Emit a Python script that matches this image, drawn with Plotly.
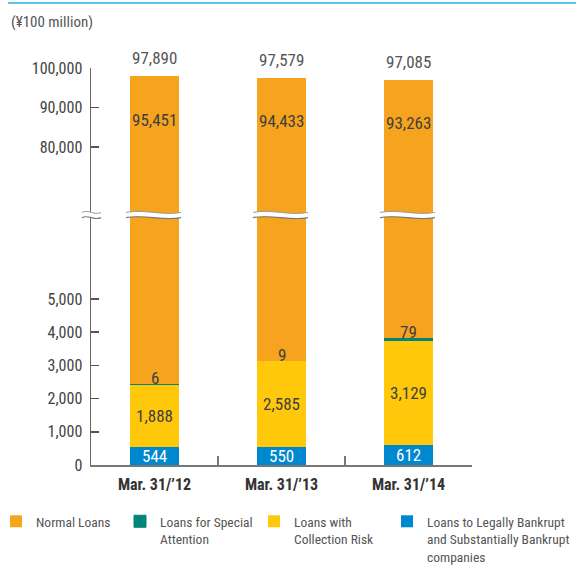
import plotly.graph_objects as go

categories = ["Mar. 31/’12", "Mar. 31/’13", "Mar. 31/’14"]
bankrupt = [544, 550, 612]
collection_risk = [1888, 2585, 3129]
special_attention = [6, 9, 79]
normal = [95451, 94433, 93263]
totals = [97890, 97579, 97085]

lower_ticks = [0, 1000, 2000, 3000, 4000, 5000]
upper_ticks = [80000, 90000, 100000]

FONT = "Roboto Condensed, Liberation Sans Narrow, sans-serif"
C_ORANGE = "#F6A31E"
C_TEAL = "#00857A"
C_YELLOW = "#FFC80B"
C_BLUE = "#0088CE"
TXT = "#3f3f3f"

W, H = 576, 567
L, R, T, B = 91, 104, 68, 102
PH = H - T - B
PW = W - L - R
BREAK_PX = 215  # y pixel of the axis break
lower_frac = (H - B - BREAK_PX) / PH

def py(ypix):
    return (H - B - ypix) / PH

def px(xpix):
    return (xpix - L) / PW

# (name, values, colour, legend id, legend text x-pixel)
series = [
    ("Loans to Legally Bankrupt<br>and Substantially Bankrupt<br>companies", bankrupt, C_BLUE, "legend4", 427),
    ("Loans with<br>Collection Risk", collection_risk, C_YELLOW, "legend3", 294),
    ("Loans for Special<br>Attention", special_attention, C_TEAL, "legend2", 160),
    ("Normal Loans", normal, C_ORANGE, "legend", 36),
]

fig = go.Figure()
for name, vals, col, lg, _ in series:
    lw = 1 if col == C_TEAL else 0
    fig.add_trace(go.Bar(x=categories, y=vals, name=name, marker_color=col,
                         marker_line_color=col, marker_line_width=lw,
                         xaxis="x", yaxis="y", legend=lg, hoverinfo="skip"))
for name, vals, col, lg, _ in series:
    fig.add_trace(go.Bar(x=categories, y=vals, name=name, marker_color=col,
                         marker_line_width=0, showlegend=False,
                         xaxis="x2", yaxis="y2", hoverinfo="skip"))

VS = 17
ann = []
for i, c in enumerate(categories):
    b = bankrupt[i]
    cr = collection_risk[i]
    sa = special_attention[i]
    ann.append(dict(x=c, y=b / 2, xref="x", yref="y", text=f"{b:,}", showarrow=False,
                    font=dict(family=FONT, size=VS, color="white")))
    ann.append(dict(x=c, y=b + cr / 2, xref="x", yref="y", text=f"{cr:,}", showarrow=False,
                    font=dict(family=FONT, size=VS, color=TXT)))
    ann.append(dict(x=c, y=b + cr + sa, xref="x", yref="y", text=f"{sa:,}", showarrow=False,
                    yanchor="bottom", yshift=-6, font=dict(family=FONT, size=VS, color=TXT)))
    ann.append(dict(x=c, y=totals[i] - 11000, xref="x2", yref="y2", text=f"{normal[i]:,}",
                    showarrow=False, font=dict(family=FONT, size=VS, color=TXT)))
    ann.append(dict(x=c, y=totals[i], xref="x2", yref="y2", text=f"{totals[i]:,}",
                    showarrow=False, yanchor="bottom", yshift=6,
                    font=dict(family=FONT, size=VS, color="#555555")))

ann.append(dict(x=px(9), y=py(22), xref="paper", yref="paper", text="(¥100 million)",
                showarrow=False, xanchor="left", yanchor="middle",
                font=dict(family=FONT, size=15, color="#555555")))

shapes = []
# top blue rule
shapes.append(dict(type="line", xref="paper", yref="paper", x0=px(8), x1=px(576),
                   y0=py(3), y1=py(3), line=dict(color="#5BC4EE", width=2)))

def wave_path(x0, x1, yc, amp, off):
    w = x1 - x0
    return (f"M{x0},{yc+off} C{x0 + w/3},{yc+off+amp} {x0 + 2*w/3},{yc+off-amp} {x1},{yc+off}")

def band(xl, xr):
    yc = py(BREAK_PX)
    amp = 3.5 / PH
    off = 2.6 / PH
    w = xr - xl
    fill = (f"M{xl},{yc+off} C{xl + w/3},{yc+off+amp} {xl + 2*w/3},{yc+off-amp} {xr},{yc+off} "
            f"L{xr},{yc-off} C{xl + 2*w/3},{yc-off-amp} {xl + w/3},{yc-off+amp} {xl},{yc-off} Z")
    shapes.append(dict(type="path", xref="paper", yref="paper", path=fill,
                       fillcolor="white", line=dict(width=0)))
    shapes.append(dict(type="path", xref="paper", yref="paper",
                       path=wave_path(xl, xr, yc, amp, off), line=dict(color="#9a9a9a", width=1)))
    shapes.append(dict(type="path", xref="paper", yref="paper",
                       path=wave_path(xl, xr, yc, amp, -off), line=dict(color="#777777", width=1.2)))

n = len(categories)
bw = 0.385
for i in range(n):
    cx = (i + 0.5) / n
    band(cx - bw / n / 2 - 4 / PW, cx + bw / n / 2 + 2 / PW)
band(px(82), px(101))

axis_font = dict(family=FONT, size=16, color="#444444")
legends = {}
for name, vals, col, lg, tx in series:
    legends[lg] = dict(orientation="h", x=px(tx - 40), xanchor="left", y=py(506), yanchor="top",
                       font=dict(family=FONT, size=13.5, color="#555555"), valign="top",
                       bgcolor="rgba(0,0,0,0)", itemclick=False, itemdoubleclick=False)

fig.update_layout(
    width=W, height=H,
    margin=dict(l=L, r=R, t=T, b=B, pad=0, autoexpand=False),
    paper_bgcolor="white", plot_bgcolor="white",
    barmode="stack", bargap=1 - bw,
    font=dict(family=FONT, size=16, color="#444444"),
    xaxis=dict(domain=[0, 1], anchor="y", type="category", range=[-0.5, 2.5],
               showline=True, linecolor="#777777", linewidth=1.5,
               ticks="inside", tickson="boundaries", ticklen=9, tickcolor="#777777", tickwidth=1.5,
               tickfont=dict(family=FONT, size=16, color="#333333", weight="bold"),
               ticklabelstandoff=4,
               showgrid=False, zeroline=False, automargin=False),
    xaxis2=dict(domain=[0, 1], anchor="y2", type="category", range=[-0.5, 2.5],
                matches="x", visible=False),
    yaxis=dict(domain=[0, lower_frac], range=[0, 250 / 33.2 * 1000],
               tickvals=lower_ticks, ticktext=[f"{v:,}" for v in lower_ticks],
               ticks="inside", ticklen=8, tickcolor="#555555", tickwidth=1.5,
               showline=True, linecolor="#666666", linewidth=1.5, automargin=False,
               showgrid=False, zeroline=False, tickfont=axis_font, ticklabelstandoff=4),
    yaxis2=dict(domain=[lower_frac, 1], range=[100000 - 147 / 39.5 * 10000, 100000],
                tickvals=upper_ticks, ticktext=[f"{v:,}" for v in upper_ticks],
                ticks="inside", ticklen=8, tickcolor="#555555", tickwidth=1.5,
                showline=True, linecolor="#666666", linewidth=1.5, automargin=False,
                showgrid=False, zeroline=False, tickfont=axis_font, anchor="x2", ticklabelstandoff=4),
    annotations=ann,
    shapes=shapes,
    showlegend=True,
    hovermode=False,
    **legends,
)

fig.write_html("out.html", config={"displayModeBar": False, "staticPlot": True},
               post_script="document.body.style.margin='0';")
